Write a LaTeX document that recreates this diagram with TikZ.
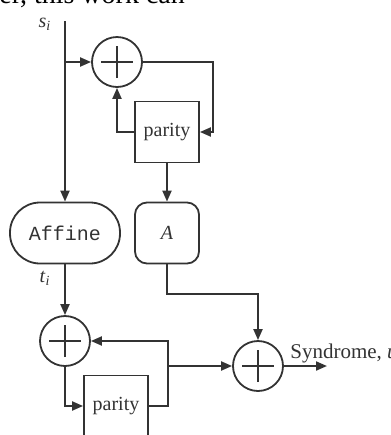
\documentclass[tikz,border=0pt]{standalone}
\usepackage{fontspec}
\setmainfont{Liberation Serif}
\setmonofont{Liberation Mono}
\usepackage{xcolor}
\definecolor{ink}{HTML}{333333}
\usepackage{tikz}
\usetikzlibrary{arrows.meta,calc}

\tikzset{
  xorsum/.style={draw=ink,circle,minimum size=25pt,inner sep=0pt,line width=0.9pt,
    path picture={
      \draw[ink,line width=0.8pt] ([xshift=-8pt]path picture bounding box.center) -- ([xshift=8pt]path picture bounding box.center);
      \draw[ink,line width=0.8pt] ([yshift=-8pt]path picture bounding box.center) -- ([yshift=8pt]path picture bounding box.center);}},
  paritybox/.style={draw=ink,rectangle,line width=0.9pt,minimum width=32pt,minimum height=30.5pt,inner sep=0pt,text=ink},
  mapbox/.style={draw=ink,rectangle,rounded corners=#1,line width=0.9pt,minimum height=30.5pt,inner sep=0pt,text=ink},
  wire/.style={draw=ink,line width=1pt},
}

\begin{document}
\begin{tikzpicture}[x=0.5pt,y=-0.5pt,>={Triangle[length=5.5pt,width=4.5pt]},every node/.style={font=\fontsize{10}{12}\selectfont}]
\useasboundingbox (0,0) rectangle (391,435);
\clip (0,0) rectangle (391,435);
% cut-off line of running text above the figure
\node[anchor=base west,inner sep=0pt,font=\fontsize{14}{16}\selectfont] (txt) at (-1,3) {er, this work can};
% nodes
\coordinate (in) at (65,21);
\coordinate (br) at (65,62);
\node[text=ink] (s) at (45,24) {\textit{s}\textsubscript{\textit{i}}};
\node[xorsum] (X1) at (117,62) {};
\node[paritybox] (P1) at (167,132) {parity};
\node[mapbox=15pt,minimum width=55pt] (Aff) at (65,233) {\texttt{Affine}};
\node[mapbox=6pt,minimum width=32pt] (A) at (167,233) {\textit{A}};
\node[text=ink] (t) at (45,278) {\textit{t}\textsubscript{\textit{i}}};
\node[xorsum] (X2) at (65,341) {};
\node[paritybox] (P2) at (116,406) {parity};
\node[xorsum] (X3) at (258,366) {};
\coordinate (out) at (327,366);
\node[anchor=west,inner sep=0pt,text=ink,font=\fontsize{10.5}{12}\selectfont] (syn) at (290,353) {Syndrome, \textit{u}};
% connectors
\draw[wire,->] (in) -- (Aff.north);
\draw[wire,->] (br) -- (X1.west);
\draw[wire,->] (X1.east) -| ($(P1.east)+(13,0)$) -- (P1.east);
\draw[wire,->] (P1.west) -| (X1.south);
\draw[wire,->] (P1.south) -- (A.north);
\draw[wire,->] (Aff.south) -- (X2.north);
\draw[wire,->] (A.south) -- ++(0,30) -| (X3.north);
\draw[wire,->] (X3.east) -- (out);
\draw[wire,->] (X2.south) |- (P2.west);
\draw[wire,->] (P2.east) -| ($(P2.east)+(19,-65)$) -- (X2.east);
\draw[wire,->] ($(P2.east)+(19,-40)$) -- (X3.west);
\end{tikzpicture}
\end{document}
